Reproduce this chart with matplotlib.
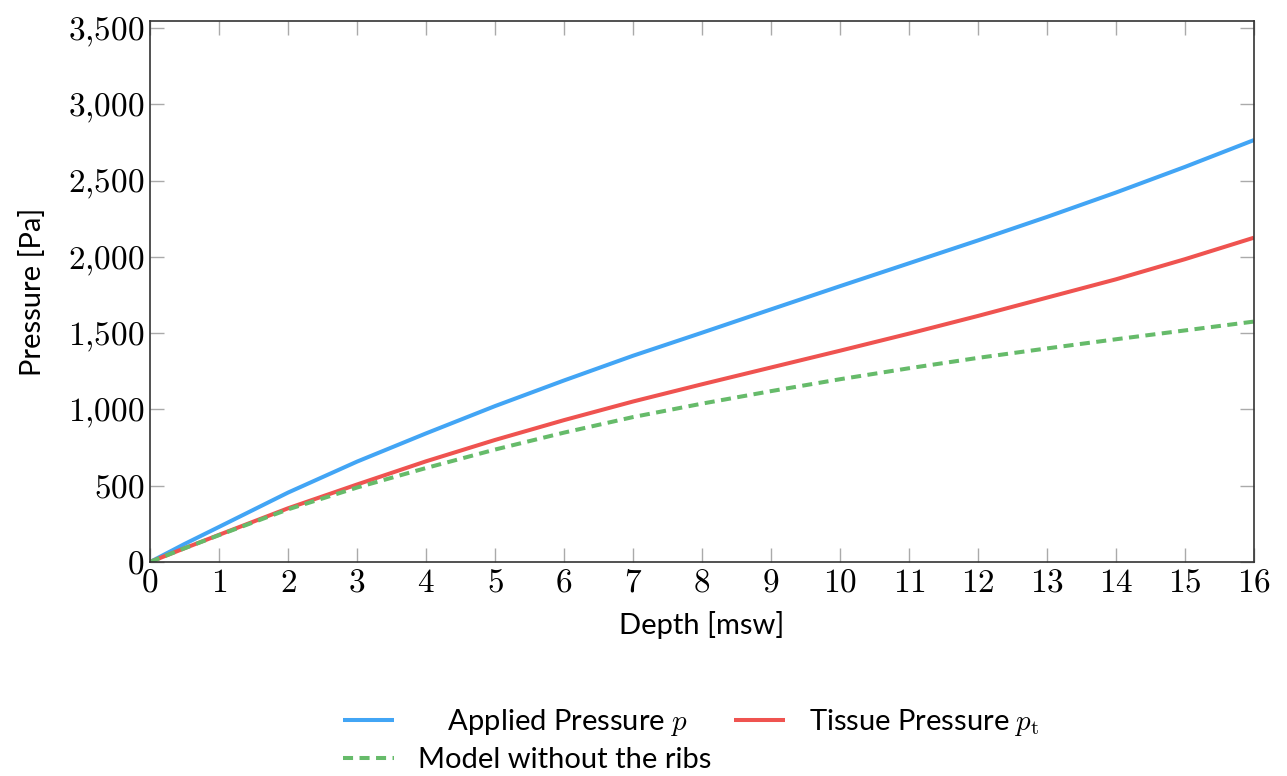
import numpy as np
import matplotlib.pyplot as plt
from matplotlib.ticker import FuncFormatter

plt.rcParams['mathtext.fontset'] = 'cm'
plt.rcParams['font.family'] = ['Lato', 'DejaVu Sans']

# depth in msw
depth = [0, 0.5, 1, 2, 3, 4, 5, 6, 7, 8, 9, 10, 11, 12, 13, 14, 15, 16]
# applied pressure p [Pa]
applied = [0, 118, 230, 455, 658, 843, 1022, 1190, 1352, 1503, 1656, 1808,
           1958, 2108, 2262, 2422, 2590, 2766]
# tissue pressure p_t [Pa]
tissue = [0, 90, 178, 352, 508, 660, 800, 930, 1052, 1165, 1275, 1385,
          1497, 1613, 1733, 1853, 1985, 2126]
# model without the ribs [Pa]
noribs = [0, 90, 176, 345, 488, 616, 737, 848, 950, 1038, 1120, 1198,
          1270, 1338, 1400, 1460, 1518, 1576]

xticks = list(range(0, 17))
yticks = [0, 500, 1000, 1500, 2000, 2500, 3000, 3500]

fig = plt.figure(figsize=(12.87, 7.76), dpi=100)
ax = fig.add_axes([0.1166, 0.2758, 0.8578, 0.6971])

lw = 2.9
l1, = ax.plot(depth, applied, color='#42A5F5', lw=lw, solid_capstyle='butt')
l2, = ax.plot(depth, tissue, color='#EF5350', lw=lw, solid_capstyle='butt')
l3, = ax.plot(depth, noribs, color='#66BB6A', lw=lw, dashes=(2.5, 1.6))

ax.set_xlim(0, 16)
ax.set_ylim(0, 3546)
ax.set_xticks(xticks)
ax.set_yticks(yticks)
ax.xaxis.set_major_formatter(FuncFormatter(lambda v, p: f"${int(v)}$"))
ax.yaxis.set_major_formatter(
    FuncFormatter(lambda v, p: "$" + f"{int(v):,}".replace(",", "{,}") + "$"))

ax.tick_params(direction='in', length=10, width=1.0, color='#aaaaaa',
               top=True, right=True, labelsize=24, pad=4)
for s in ax.spines.values():
    s.set_color('#333333')
    s.set_linewidth(1.2)

ax.set_xlabel('Depth [msw]', fontsize=21, labelpad=10)
ax.set_ylabel('Pressure [Pa]', fontsize=21, labelpad=16)

leg = fig.legend([l1, l3, l2],
                 ['    Applied Pressure $p$', 'Model without the ribs',
                  'Tissue Pressure $p_\\mathrm{t}$'],
                 loc='center', bbox_to_anchor=(0.537, 0.046),
                 ncol=2, frameon=False, fontsize=21, handlelength=1.75,
                 columnspacing=0.8, handletextpad=0.8, labelspacing=0.3)

plt.savefig('out.png', dpi=100)
